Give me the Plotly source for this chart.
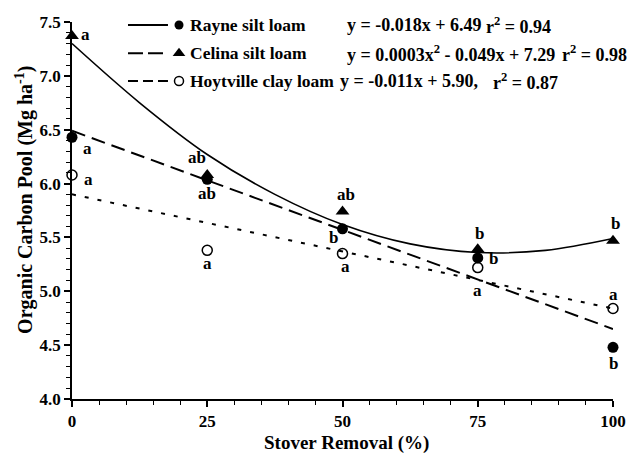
import plotly.graph_objects as go

# ---------------- data ----------------
stover = [0, 25, 50, 75, 100]
rayne = [6.43, 6.04, 5.58, 5.31, 4.48]
celina = [7.37, 6.08, 5.74, 5.39, 5.47]
hoytville = [6.08, 5.38, 5.35, 5.22, 4.84]

letters_rayne = ["a", "ab", "b", "b", "b"]
letters_celina = ["a", "ab", "ab", "b", "b"]
letters_hoyt = ["a", "a", "a", "a", "a"]

# fitted trend lines as drawn in the figure
curve_x = [0, 12.5, 25, 37.5, 50, 62.5, 75, 87.5, 100]
curve_solid = [7.30, 6.75, 6.27, 5.90, 5.62, 5.44, 5.36, 5.38, 5.49]
line_x = [0, 100]
line_long_dash = [6.49, 4.65]
line_dotted = [5.90, 4.84]

legend_names = ["Rayne silt loam", "Celina silt loam", "Hoytville clay loam"]
legend_eqs = ["y = -0.018x + 6.49", "y = 0.0003x<sup>2</sup> - 0.049x + 7.29", "y = -0.011x + 5.90,"]
legend_r2 = ["r<sup>2</sup> = 0.94", "r<sup>2</sup> = 0.98", "r<sup>2</sup> = 0.87"]

x_ticks = [0, 25, 50, 75, 100]
y_ticks = [4.0, 4.5, 5.0, 5.5, 6.0, 6.5, 7.0, 7.5]

FONT = "Liberation Serif"

fig = go.Figure()

# trend lines
fig.add_trace(go.Scatter(x=curve_x, y=curve_solid, mode="lines", line_shape="spline",
                         line=dict(color="black", width=1.6), hoverinfo="skip", showlegend=False))
fig.add_trace(go.Scatter(x=line_x, y=line_long_dash, mode="lines",
                         line=dict(color="black", width=2, dash="14px,7px"), hoverinfo="skip", showlegend=False))
fig.add_trace(go.Scatter(x=line_x, y=line_dotted, mode="lines",
                         line=dict(color="black", width=2, dash="4px,9px"), hoverinfo="skip", showlegend=False))

# data points
fig.add_trace(go.Scatter(x=stover, y=hoytville, mode="markers", cliponaxis=False,
                         marker=dict(symbol="circle-open", size=10, color="black", line=dict(width=1.5)),
                         showlegend=False))
fig.add_trace(go.Scatter(x=stover, y=rayne, mode="markers", cliponaxis=False,
                         marker=dict(symbol="circle", size=11, color="black"), showlegend=False))
fig.add_trace(go.Scatter(x=stover, y=celina, mode="markers", cliponaxis=False,
                         marker=dict(symbol="triangle-up", size=12, color="black"), showlegend=False))

# significance letters
annots = []
shift_celina = [(13, 2), (-10, 17), (3, 17), (2, 16), (2, 17)]
shift_rayne = [(15, -11), (0, -14), (-9, -9), (16, -1), (0, -16)]
shift_hoyt = [(16, -5), (0, -13), (3, -13), (0, -23), (0, 14)]
for vals, letters, shifts in [(celina, letters_celina, shift_celina),
                              (rayne, letters_rayne, shift_rayne),
                              (hoytville, letters_hoyt, shift_hoyt)]:
    for xv, yv, t, (dx, dy) in zip(stover, vals, letters, shifts):
        annots.append(dict(x=xv, y=yv, xref="x", yref="y", text="<b>%s</b>" % t, showarrow=False,
                           xshift=dx, yshift=dy, font=dict(family=FONT, size=17, color="black")))

# legend (custom)
row_y = [0.992, 0.917, 0.8435]
eq_x = [0.5046, 0.5046, 0.4917]
r2_x = [0.7616, 0.902, 0.7745]
dashes = ["solid", "15px,5px", "10px,5px"]
for i in range(3):
    fig.add_shape(type="line", xref="paper", yref="paper", x0=0.1035, x1=0.1774, y0=row_y[i], y1=row_y[i],
                  line=dict(color="black", width=2, dash=dashes[i]))
    annots.append(dict(x=0.2144, y=row_y[i], xref="paper", yref="paper", xanchor="left", yanchor="middle",
                       text="<b>%s</b>" % legend_names[i], showarrow=False,
                       font=dict(family=FONT, size=17.5, color="black")))
    annots.append(dict(x=eq_x[i], y=row_y[i], xref="paper", yref="paper", xanchor="left", yanchor="middle",
                       text="<b>%s</b>" % legend_eqs[i], showarrow=False,
                       font=dict(family=FONT, size=18, color="black")))
    annots.append(dict(x=r2_x[i], y=row_y[i], xref="paper", yref="paper", xanchor="left", yanchor="middle",
                       text="<b>%s</b>" % legend_r2[i], showarrow=False,
                       font=dict(family=FONT, size=18, color="black")))

# legend markers on an overlay axis matching the paper
fig.add_trace(go.Scatter(x=[0.1978], y=[row_y[0]], xaxis="x2", yaxis="y2", mode="markers", cliponaxis=False,
                         marker=dict(symbol="circle", size=9, color="black"), showlegend=False, hoverinfo="skip"))
fig.add_trace(go.Scatter(x=[0.1978], y=[row_y[1]], xaxis="x2", yaxis="y2", mode="markers", cliponaxis=False,
                         marker=dict(symbol="triangle-up", size=11, color="black"), showlegend=False, hoverinfo="skip"))
fig.add_trace(go.Scatter(x=[0.1978], y=[row_y[2]], xaxis="x2", yaxis="y2", mode="markers", cliponaxis=False,
                         marker=dict(symbol="circle-open", size=9, color="black", line=dict(width=1.5)),
                         showlegend=False, hoverinfo="skip"))

# axis titles
annots.append(dict(x=0.508, y=-0.1167, xref="paper", yref="paper", xanchor="center", yanchor="middle",
                   text="<b>Stover Removal (%)</b>", showarrow=False,
                   font=dict(family=FONT, size=19, color="black")))
annots.append(dict(x=-0.0869, y=0.528, xref="paper", yref="paper", xanchor="center", yanchor="middle",
                   text="<b>Organic Carbon Pool (Mg ha<sup>-1</sup>)</b>", showarrow=False, textangle=-90,
                   font=dict(family=FONT, size=20, color="black")))

fig.update_layout(
    width=627, height=454,
    margin=dict(l=72, r=14, t=22, b=55),
    paper_bgcolor="white", plot_bgcolor="white",
    font=dict(family=FONT, size=17, color="black"),
    annotations=annots,
    xaxis=dict(range=[0, 100], tickvals=x_ticks, ticktext=[str(v) for v in x_ticks], automargin=False,
               showline=True, linecolor="black", linewidth=1.5, showgrid=False, zeroline=False,
               ticks="outside", ticklen=6, tickwidth=1.5, tickcolor="black",
               tickfont=dict(family=FONT, size=17, color="black", weight="bold"),
               ticklabelstandoff=0,
               minor=dict(ticks="outside", dtick=5, ticklen=4, tickwidth=1.2, tickcolor="black", showgrid=False)),
    yaxis=dict(range=[4.0, 7.5], tickvals=y_ticks, ticktext=["%.1f" % v for v in y_ticks], automargin=False,
               showline=True, linecolor="black", linewidth=1.5, showgrid=False, zeroline=False,
               ticks="outside", ticklen=6, tickwidth=1.5, tickcolor="black",
               tickfont=dict(family=FONT, size=17, color="black", weight="bold"),
               minor=dict(ticks="outside", dtick=0.1, ticklen=4, tickwidth=1.2, tickcolor="black", showgrid=False)),
    xaxis2=dict(range=[0, 1], overlaying="x", visible=False, fixedrange=True, automargin=False),
    yaxis2=dict(range=[0, 1], overlaying="y", visible=False, fixedrange=True, automargin=False),
    showlegend=False,
)

fig.write_html("out.html", config={"displayModeBar": False},
               post_script="document.body.style.margin='0';document.body.style.overflow='hidden';")
